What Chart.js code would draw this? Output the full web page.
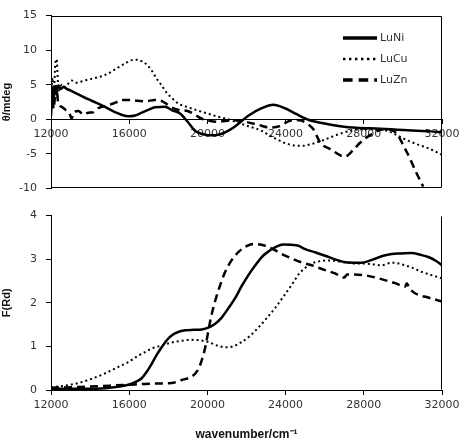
<!DOCTYPE html>
<html>
<head>
<meta charset="utf-8">
<script src="https://cdn.jsdelivr.net/npm/chart.js@4"></script>
<style>
  html, body { margin: 0; padding: 0; background: #fff; }
  #page { position: relative; width: 467px; height: 442px; overflow: hidden; }
  #cd-chart { position: absolute; left: 0; top: 0; }
  #frd-chart { position: absolute; left: 0; top: 200px; }
  #legend { position: absolute; left: 343px; top: 27px; margin: 0; padding: 0; list-style: none;
    font: 11px "DejaVu Sans", sans-serif; color: #333; }
  #legend li { display: flex; align-items: center; height: 21px; }
  #legend svg { display: block; margin-right: 3px; }
</style>
</head>
<body>
<div id="page">
  <canvas id="cd-chart" width="467" height="204"></canvas>
  <canvas id="frd-chart" width="467" height="242"></canvas>
  <ul id="legend"></ul>
</div>
<script>
const seriesNames = ["LuNi", "LuCu", "LuZn"];
const xTickValues = [12000, 16000, 20000, 24000, 28000, 32000];
const cdTickValues = [-10, -5, 0, 5, 10, 15];
const frdTickValues = [0, 1, 2, 3, 4];

// CD spectra (theta / mdeg)
const cdNiWn = [12000, 12060, 12120, 12200, 12280, 12380, 12500, 12650, 12800, 12970, 13400, 13900, 14300, 14760, 15300, 15950, 16300, 16640, 17000, 17320, 17830, 18200, 18600, 19000, 19370, 19700, 20050, 20400, 20730, 21100, 21430, 22090, 22780, 23370, 23970, 24570, 25200, 25930, 26800, 27640, 28830, 29700, 30700, 31400, 32000];
const cdNiVal = [3.0, 4.6, 2.8, 4.8, 3.6, 4.9, 4.4, 4.7, 4.4, 4.2, 3.6, 2.9, 2.4, 1.8, 1.0, 0.43, 0.55, 0.95, 1.4, 1.74, 1.8, 1.3, 0.85, -0.4, -1.67, -2.1, -2.3, -2.3, -2.1, -1.6, -1.0, 0.5, 1.6, 2.1, 1.6, 0.73, -0.1, -0.58, -1.0, -1.23, -1.36, -1.5, -1.66, -1.75, -1.88];

const cdCuWn = [12000, 12080, 12150, 12220, 12290, 12350, 12420, 12550, 12700, 12900, 13060, 13300, 13600, 13910, 14300, 14760, 15100, 15440, 15800, 16210, 16470, 16640, 16900, 17150, 17400, 17660, 17900, 18170, 18500, 18940, 19370, 19800, 20130, 20500, 21000, 21410, 22090, 22780, 23100, 23460, 24140, 24820, 25300, 25950, 26400, 26780, 27400, 27980, 28600, 29170, 29700, 30190, 30800, 31390, 32000];
const cdCuVal = [3.5, 6.0, 4.0, 8.0, 8.7, 5.5, 4.2, 5.0, 4.6, 5.2, 5.6, 5.3, 5.5, 5.75, 6.0, 6.4, 6.9, 7.5, 8.1, 8.6, 8.6, 8.4, 7.9, 7.06, 5.9, 4.9, 3.9, 3.1, 2.3, 1.8, 1.4, 1.0, 0.73, 0.4, 0.05, -0.35, -1.0, -1.67, -2.2, -2.76, -3.6, -3.85, -3.6, -3.0, -2.5, -2.1, -1.6, -1.45, -1.45, -1.66, -2.3, -3.0, -3.7, -4.3, -5.15];

const cdZnWn = [12000, 12080, 12130, 12200, 12280, 12370, 12550, 12800, 12950, 13060, 13150, 13400, 13650, 13910, 14150, 14420, 14930, 15300, 15610, 16000, 16300, 16810, 17320, 17700, 18000, 18340, 18680, 19020, 19400, 19710, 20100, 20560, 21240, 21920, 22600, 23200, 23700, 24140, 24480, 24800, 25080, 25420, 25780, 26270, 27040, 27500, 27810, 28320, 29000, 29510, 30190, 30700, 31040];
const cdZnVal = [0.5, 3.5, 1.5, 3.1, 4.8, 2.3, 1.8, 1.2, 0.8, 0.1, 1.0, 1.2, 0.7, 0.95, 1.0, 1.6, 2.04, 2.4, 2.8, 2.8, 2.7, 2.6, 2.8, 2.6, 2.04, 1.5, 1.3, 1.17, 0.6, 0.08, -0.2, -0.36, -0.14, -0.36, -0.8, -1.2, -1.0, -0.3, -0.1, -0.2, -0.6, -1.45, -3.4, -4.3, -5.4, -4.3, -3.4, -2.3, -1.45, -1.66, -4.7, -7.8, -9.74];

// Diffuse reflectance, F(Rd)
const frdNiWn = [12000, 13000, 14250, 15000, 15500, 15950, 16300, 16640, 16900, 17150, 17400, 17660, 17900, 18170, 18500, 18860, 19300, 19710, 20050, 20400, 20730, 21050, 21410, 21750, 22090, 22450, 22780, 23100, 23460, 23880, 24300, 24650, 25000, 25500, 26020, 26500, 27040, 27500, 27890, 28200, 28570, 29000, 29430, 29900, 30450, 30900, 31300, 31700, 32000];
const frdNiVal = [0.03, 0.03, 0.03, 0.05, 0.08, 0.12, 0.18, 0.27, 0.42, 0.6, 0.8, 0.98, 1.13, 1.25, 1.33, 1.37, 1.38, 1.39, 1.43, 1.52, 1.66, 1.86, 2.1, 2.38, 2.63, 2.86, 3.05, 3.17, 3.27, 3.34, 3.33, 3.31, 3.23, 3.16, 3.08, 3.0, 2.93, 2.92, 2.92, 2.95, 3.01, 3.08, 3.12, 3.13, 3.14, 3.1, 3.05, 2.96, 2.86];

const frdCuWn = [12000, 12700, 13400, 14100, 14760, 15400, 15950, 16400, 16810, 17200, 17660, 18100, 18510, 19200, 19600, 20050, 20500, 20900, 21300, 21750, 22200, 22600, 23000, 23460, 23900, 24310, 24700, 25000, 25330, 25700, 26190, 26600, 27040, 27500, 28060, 28500, 28910, 29430, 29800, 30110, 30500, 30960, 31500, 32000];
const frdCuVal = [0.06, 0.1, 0.16, 0.26, 0.38, 0.52, 0.64, 0.77, 0.87, 0.96, 1.02, 1.08, 1.12, 1.15, 1.14, 1.1, 1.02, 0.98, 1.0, 1.1, 1.25, 1.43, 1.63, 1.88, 2.15, 2.41, 2.67, 2.8, 2.9, 2.95, 2.97, 2.96, 2.93, 2.9, 2.9, 2.88, 2.86, 2.92, 2.9, 2.86, 2.8, 2.71, 2.63, 2.56];

const frdZnWn = [12000, 13500, 15000, 15950, 16810, 17500, 18170, 18680, 19200, 19500, 19710, 19900, 20050, 20200, 20390, 20650, 20900, 21200, 21580, 21950, 22350, 22950, 23400, 23800, 24300, 24800, 25330, 26020, 26500, 27000, 27150, 28060, 28600, 29080, 29600, 30110, 30200, 30300, 30620, 31300, 32000];
const frdZnVal = [0.05, 0.07, 0.1, 0.12, 0.14, 0.15, 0.16, 0.23, 0.31, 0.45, 0.68, 1.0, 1.36, 1.7, 2.03, 2.4, 2.7, 2.95, 3.16, 3.29, 3.35, 3.31, 3.22, 3.12, 3.02, 2.93, 2.86, 2.75, 2.68, 2.58, 2.65, 2.63, 2.58, 2.52, 2.45, 2.37, 2.45, 2.36, 2.22, 2.12, 2.03];

const toPoints = (xs, ys) => xs.map((x, i) => ({ x, y: ys[i] }));

const tickFont = { family: "DejaVu Sans", size: 11 };
const titleFont = { family: "Liberation Sans", size: 11, weight: "bold" };

const framePlugin = {
  id: "frame",
  afterDraw(chart, args, opts) {
    const { ctx, chartArea: a } = chart;
    const l = Math.round(a.left) + 0.5;
    const r = Math.round(a.right) - 0.5;
    const t = Math.round(a.top) + 0.5;
    const b = Math.round(a.bottom) - 0.5;
    ctx.save();
    ctx.strokeStyle = "#000";
    ctx.lineWidth = 1;
    ctx.beginPath();
    if (opts.top) { ctx.moveTo(l, t); ctx.lineTo(r, t); }
    if (opts.right) { ctx.moveTo(r, t); ctx.lineTo(r, b); }
    if (opts.bottom) { ctx.moveTo(l, b); ctx.lineTo(r, b); }
    ctx.stroke();
    ctx.restore();
  },
};

const xScale = (extra) => ({
  type: "linear",
  min: 12000,
  max: 32000,
  afterBuildTicks: (s) => { s.ticks = xTickValues.map((value) => ({ value })); },
  ticks: { color: "#333", font: tickFont, maxRotation: 0, autoSkip: false, callback: (v) => String(v) },
  grid: { drawOnChartArea: false, drawTicks: true, tickLength: 5, color: "#000" },
  border: { display: true, color: "#000", width: 1 },
  ...extra,
});

const yScale = (min, max, tickValues, title) => ({
  min,
  max,
  afterBuildTicks: (s) => { s.ticks = tickValues.map((value) => ({ value })); },
  afterFit: (s) => { s.width = 51; },
  ticks: { color: "#333", font: tickFont, padding: 9, callback: (v) => String(v) },
  grid: { drawOnChartArea: false, drawTicks: true, tickLength: 5, color: "#000" },
  border: { display: true, color: "#000", width: 1 },
  title: { display: true, text: title, color: "#111", font: titleFont, padding: 0 },
});

const lineStyles = [
  { borderWidth: 2.5, borderDash: [] },
  { borderWidth: 2, borderDash: [2, 3] },
  { borderWidth: 2.5, borderDash: [8, 5] },
];

const makeDatasets = (pairs) => pairs.map(([xs, ys], i) => ({
  label: seriesNames[i],
  data: toPoints(xs, ys),
  borderColor: "#000",
  backgroundColor: "#000",
  pointRadius: 0,
  cubicInterpolationMode: "monotone",
  fill: false,
  ...lineStyles[i],
}));

const cdChart = new Chart(document.getElementById("cd-chart"), {
  type: "line",
  data: {
    datasets: makeDatasets([[cdNiWn, cdNiVal], [cdCuWn, cdCuVal], [cdZnWn, cdZnVal]]),
  },
  options: {
    responsive: false,
    animation: false,
    layout: { padding: { left: 0, right: 25, top: 6, bottom: 7 } },
    scales: {
      x: xScale({
        position: { y: 0 },
        afterFit: (s) => { s.height = 0; },
        ticks: { color: "#333", font: tickFont, maxRotation: 0, autoSkip: false, padding: 4, callback: (v) => String(v) },
        grid: { drawOnChartArea: false, drawTicks: true, tickLength: 4, color: "#000" },
      }),
      y: yScale(-10, 15, cdTickValues, "θ/mdeg"),
    },
    plugins: {
      legend: { display: false },
      tooltip: { enabled: false },
      frame: { top: true, right: true, bottom: true },
    },
  },
  plugins: [framePlugin],
});

new Chart(document.getElementById("frd-chart"), {
  type: "line",
  data: {
    datasets: makeDatasets([[frdNiWn, frdNiVal], [frdCuWn, frdCuVal], [frdZnWn, frdZnVal]]),
  },
  options: {
    responsive: false,
    animation: false,
    layout: { padding: { left: 0, right: 25, top: 13, bottom: 0 } },
    scales: {
      x: xScale({
        position: "bottom",
        afterFit: (s) => { s.height = 52; },
        ticks: { color: "#333", font: tickFont, maxRotation: 0, autoSkip: false, padding: 4, callback: (v) => String(v) },
        title: { display: true, text: "wavenumber/cm\u207B\u00B9", color: "#111", font: { family: "Liberation Sans", size: 12, weight: "bold" }, padding: { top: 0, bottom: 0 } },
      }),
      y: yScale(0, 4, frdTickValues, "F(Rd)"),
    },
    plugins: {
      legend: { display: false },
      tooltip: { enabled: false },
      frame: { right: true },
    },
  },
  plugins: [framePlugin],
});

// HTML legend built from the library's own legend items
const legendList = document.getElementById("legend");
const legendItems = cdChart.options.plugins.legend.labels.generateLabels(cdChart);
legendList.innerHTML = legendItems.map((item) => {
  const width = item.lineWidth * 1.35;
  const dash = (item.lineDash || []).length ? `stroke-dasharray="${item.lineDash.map((d) => d * 1.2).join(" ")}"` : "";
  return `<li><svg width="34" height="8"><line x1="0" y1="4" x2="34" y2="4" stroke="#000" stroke-width="${width}" ${dash}/></svg><span>${item.text}</span></li>`;
}).join("");
</script>
</body>
</html>
